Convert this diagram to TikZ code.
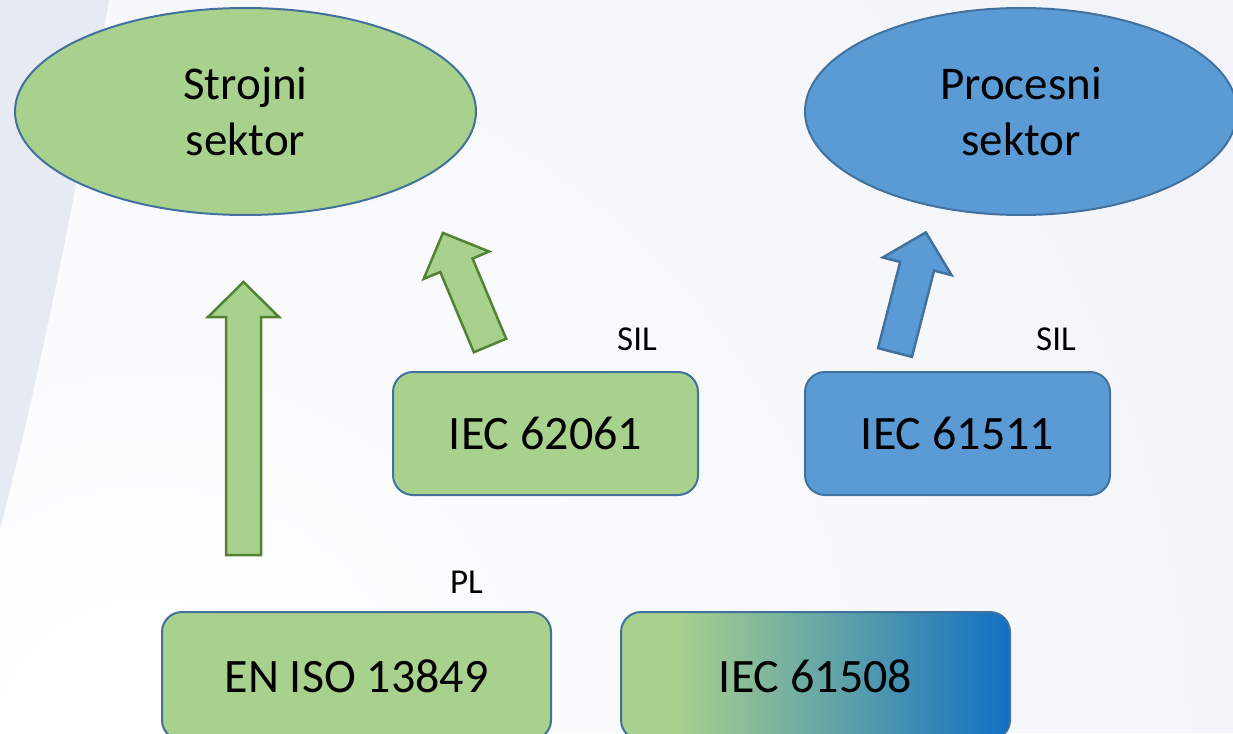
\documentclass[tikz,border=0pt]{standalone}
\usepackage{fontspec}
\setmainfont{Carlito}
\usetikzlibrary{shapes.geometric}

\definecolor{greenfill}{HTML}{A9D18E}
\definecolor{bluefill}{HTML}{5B9BD5}
\definecolor{outline}{HTML}{41719C}
\definecolor{arrowgreen}{HTML}{548235}
\definecolor{gradblue}{HTML}{1170C4}
\definecolor{bgblue}{HTML}{E6EAF3}

\tikzset{
  sector/.style={ellipse, draw=outline, line width=2pt, inner sep=0pt,
    align=center, font=\fontsize{47}{56}\selectfont},
  stdbox/.style={rectangle, rounded corners=20pt, draw=outline, line width=2pt,
    inner sep=0pt, font=\fontsize{48}{56}\selectfont},
  tag/.style={inner sep=0pt, font=\fontsize{35}{40}\selectfont},
  greenarrow/.style={fill=greenfill, draw=arrowgreen, line width=2.5pt},
  bluearrow/.style={fill=bluefill, draw=outline, line width=2.5pt},
}

% block arrow: style, base point, direction angle, total length
\newcommand\blockarrow[4]{%
  \begin{scope}[shift={#2}, rotate=#3]
    \draw[#1] (0,-17.5) -- (#4-35,-17.5) -- (#4-35,-35.5) -- (#4,0)
      -- (#4-35,35.5) -- (#4-35,17.5) -- (0,17.5) -- cycle;
  \end{scope}}

\begin{document}
\begin{tikzpicture}[x=1pt,y=-1pt]
  \useasboundingbox (0,0) rectangle (1233,733);
  \clip (0,0) rectangle (1233,733);

  % background
  \fill[bgblue] (0,0) rectangle (1233,733);
  \begin{scope}
    \clip (110,0) .. controls (80,180) and (40,380) .. (0,533)
      -- (0,733) -- (1233,733) -- (1233,0) -- cycle;
    \shade[inner color=white, outer color=bgblue] (150,760) circle (2300);
  \end{scope}
  \draw[white, line width=2pt, opacity=0.7]
    (110,0) .. controls (80,180) and (40,380) .. (0,533);

  % sectors
  \node[sector, fill=greenfill, minimum width=461pt, minimum height=207pt]
    (strojni) at (245.5,111.5) {Strojni\\sektor};
  \node[sector, fill=bluefill, minimum width=432pt, minimum height=207pt]
    (procesni) at (1021,111.5) {Procesni\\sektor};

  % standards
  \node[stdbox, fill=greenfill, minimum width=305pt, minimum height=123pt]
    (iec62061) at (545.5,433.5) {IEC 62061};
  \node[stdbox, fill=bluefill, minimum width=305pt, minimum height=123pt]
    (iec61511) at (957.5,433.5) {IEC 61511};
  \node[stdbox, fill=greenfill, minimum width=389pt, minimum height=128pt]
    (iso13849) at (356.5,676) {EN ISO 13849};
  \node[stdbox, minimum width=389pt, minimum height=128pt,
    path picture={
      \fill[greenfill] (path picture bounding box.south west)
        rectangle (path picture bounding box.north east);
      \shade[left color=greenfill, right color=gradblue]
        ([xshift=55pt]path picture bounding box.south west)
        rectangle (path picture bounding box.north east);
    }]
    (iec61508) at (815.5,676) {IEC 61508};

  % level labels
  \node[tag] (sil1) at (637,339) {SIL};
  \node[tag] (sil2) at (1056,339) {SIL};
  \node[tag] (pl) at (466.5,582.5) {PL};

  % block arrows
  \coordinate (base1) at (243.5,555);
  \coordinate (base2) at (490,345.5);
  \coordinate (base3) at (895,352.5);
  \blockarrow{greenarrow}{(base1)}{90}{273}
  \blockarrow{greenarrow}{(base2)}{112.7}{122}
  \blockarrow{bluearrow}{(base3)}{75.6}{124}
\end{tikzpicture}
\end{document}
